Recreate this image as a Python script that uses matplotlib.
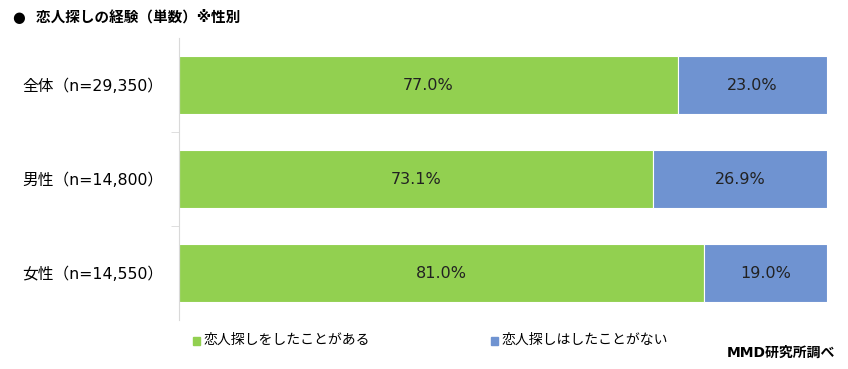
import matplotlib.pyplot as plt

plt.rcParams['font.family'] = ['DejaVu Sans', 'Noto Sans CJK JP']

# data
categories = ['全体（n=29,350）', '男性（n=14,800）', '女性（n=14,550）']
yes_share = [77.0, 73.1, 81.0]
no_share = [23.0, 26.9, 19.0]
series_names = ['恋人探しをしたことがある', '恋人探しはしたことがない']
colors = ['#92D050', '#6F93D1']

fig = plt.figure(figsize=(8.48, 3.69), dpi=100)
ax = fig.add_axes([179 / 848, 1 - 320 / 369, 648 / 848, 282 / 369])

ypos = list(range(len(categories)))
ax.barh(ypos, yes_share, height=0.62, color=colors[0], edgecolor='white', linewidth=0.8)
ax.barh(ypos, no_share, left=yes_share, height=0.62, color=colors[1], edgecolor='white', linewidth=0.8)

for y, a, b in zip(ypos, yes_share, no_share):
    ax.text(a / 2, y, f'{a:.1f}%', ha='center', va='center', fontsize=11.5, color='#222222')
    ax.text(a + b / 2, y, f'{b:.1f}%', ha='center', va='center', fontsize=11.5, color='#222222')

ax.set_xlim(0, 100)
ax.set_ylim(2.5, -0.5)
ax.set_yticks(ypos)
ax.set_yticklabels(categories, fontsize=11.3)
ax.tick_params(axis='y', length=0, pad=11.5)
ax.set_yticks([0.5, 1.5], minor=True)
ax.tick_params(axis='y', which='minor', length=6, color='#d9d9d9')
ax.set_xticks([])
for s in ['top', 'right', 'bottom']:
    ax.spines[s].set_visible(False)
ax.spines['left'].set_color('#d9d9d9')

fig.text(13 / 848, 1 - 17 / 369, '●  恋人探しの経験（単数）※性別', fontsize=10.5,
         fontweight='bold', va='center', ha='left')

# legend
for x0, name, c in zip([193, 491], series_names, colors):
    fig.patches.append(plt.Rectangle((x0 / 848, 1 - 345 / 369), 7 / 848, 8 / 369,
                                     transform=fig.transFigure, color=c))
    fig.text((x0 + 11) / 848, 1 - 340 / 369, name, fontsize=10, va='center', ha='left')

fig.text(835 / 848, 1 - 353 / 369, 'MMD研究所調べ', fontsize=10, fontweight='bold',
         va='center', ha='right')

fig.savefig('out.png', dpi=100)
